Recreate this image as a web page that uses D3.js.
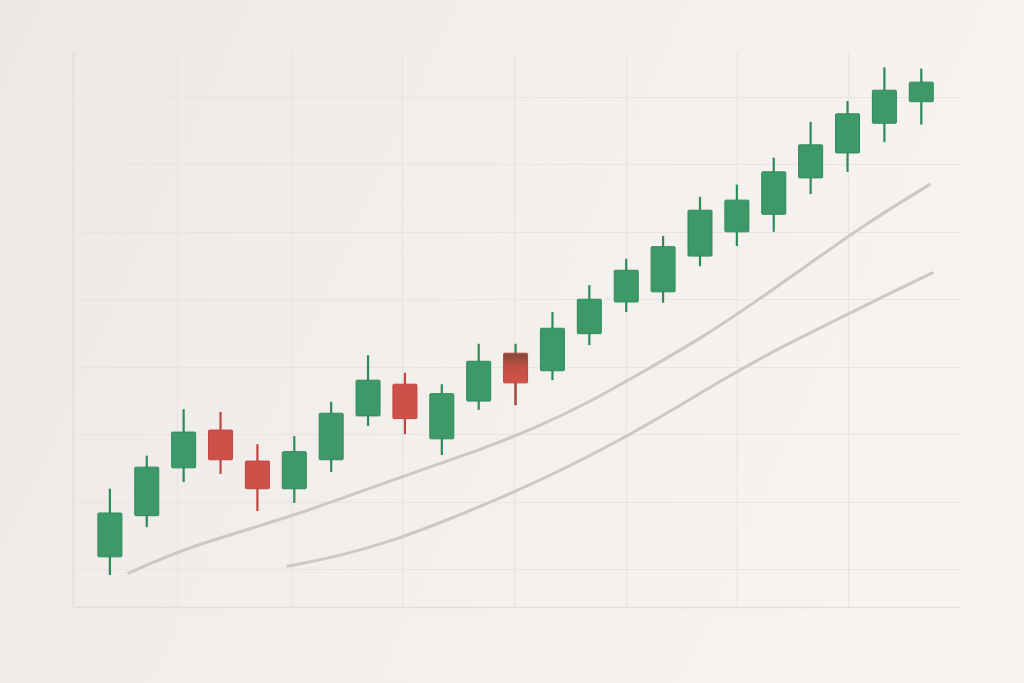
<!DOCTYPE html>
<html>
<head>
<meta charset="utf-8">
<script src="https://cdn.jsdelivr.net/npm/d3@7"></script>
<style>
  html, body { margin: 0; padding: 0; background: #f2efec; }
  svg { display: block; }
</style>
</head>
<body>
<svg id="chart" width="1024" height="683"></svg>
<script>
// ---- data ----
const open  = [11.8, 17.9, 25.0, 30.6, 26.0, 21.9, 26.2, 32.7, 37.4, 29.3, 34.9, 42.0, 39.4, 44.9, 49.6, 51.1, 56.4, 60.0, 62.6, 68.0, 71.7, 76.1, 79.3];
const close = [18.3, 25.1, 30.3, 26.2, 21.9, 27.4, 33.1, 38.0, 32.3, 36.0, 40.8, 37.6, 45.7, 50.0, 54.3, 57.8, 63.2, 64.7, 68.9, 72.9, 77.5, 81.0, 82.2];
const high  = [21.9, 26.8, 33.7, 33.3, 28.5, 29.7, 34.8, 41.7, 39.1, 37.4, 43.4, 43.4, 48.1, 52.1, 56.0, 59.4, 65.2, 67.0, 71.0, 76.3, 79.4, 84.4, 84.2];
const low   = [9.1, 16.2, 22.9, 24.1, 18.6, 19.8, 24.4, 31.2, 30.0, 26.9, 33.6, 34.3, 38.0, 43.2, 48.1, 49.5, 54.9, 57.9, 60.0, 65.6, 68.9, 73.3, 75.9];

// moving-average lines: index position and value
const ma1Index = [0.51, 1.5, 2.5, 4.0, 5.5, 7.0, 8.5, 10.0, 11.5, 13.0, 14.5, 16.0, 17.5, 19.0, 20.5, 22.22];
const ma1Value = [9.4, 11.8, 13.8, 16.3, 18.9, 21.9, 24.8, 27.6, 30.8, 34.7, 39.4, 44.1, 49.6, 55.4, 61.2, 67.0];
const ma2Index = [4.82, 6.3, 7.8, 9.3, 10.8, 12.3, 13.8, 15.3, 16.8, 18.3, 19.8, 21.3, 22.3];
const ma2Value = [10.4, 12.0, 14.4, 17.6, 21.0, 24.8, 29.0, 33.7, 38.7, 43.2, 47.2, 51.3, 53.9];

// grid tick positions
const yTicks = [10, 20, 30, 40, 50, 60, 70, 80];
const xTicks = [1.82, 4.91, 7.92, 10.96, 13.99, 17.0, 20.01];

// ---- layout ----
const W = 1024, H = 683;
const pLeft = 73, pRight = 960, pTop = 52, pBottom = 607;
const svg = d3.select("#chart");

const defs = svg.append("defs");
const bg = defs.append("linearGradient").attr("id", "bg").attr("x1", "0").attr("y1", "0").attr("x2", "1").attr("y2", "0.3");
bg.append("stop").attr("offset", "0%").attr("stop-color", "#ebe8e5");
bg.append("stop").attr("offset", "55%").attr("stop-color", "#f2efec");
bg.append("stop").attr("offset", "100%").attr("stop-color", "#f6f3f1");
const rg = defs.append("linearGradient").attr("id", "redDark").attr("x1", "0").attr("y1", "0").attr("x2", "0").attr("y2", "1");
rg.append("stop").attr("offset", "0%").attr("stop-color", "#7d4a3a");
rg.append("stop").attr("offset", "45%").attr("stop-color", "#c24f44");
rg.append("stop").attr("offset", "100%").attr("stop-color", "#d0524a");

svg.append("rect").attr("width", W).attr("height", H).attr("fill", "url(#bg)");

const x = d3.scaleLinear().domain([-1, 23.05]).range([pLeft, pRight]);
const y = d3.scaleLinear().domain([4.36, 86.67]).range([pBottom, pTop]);

// grid
const grid = svg.append("g");
grid.selectAll("line.h").data(yTicks).join("line")
  .attr("x1", pLeft).attr("x2", pRight)
  .attr("y1", d => Math.round(y(d)) + 0.5).attr("y2", d => Math.round(y(d)) + 0.5)
  .attr("stroke", "#e8e4e1").attr("stroke-width", 1.2);
grid.selectAll("line.v").data(xTicks).join("line")
  .attr("x1", d => Math.round(x(d)) + 0.5).attr("x2", d => Math.round(x(d)) + 0.5)
  .attr("y1", pTop).attr("y2", pBottom)
  .attr("stroke", "#e8e4e1").attr("stroke-width", 1.2);
// frame (left + bottom)
grid.append("line").attr("x1", pLeft + 0.5).attr("x2", pLeft + 0.5).attr("y1", pTop).attr("y2", pBottom)
  .attr("stroke", "#e2dedb").attr("stroke-width", 1.5);
grid.append("line").attr("x1", pLeft).attr("x2", pRight).attr("y1", pBottom + 0.5).attr("y2", pBottom + 0.5)
  .attr("stroke", "#e2dedb").attr("stroke-width", 1.5);

// moving averages
const line = d3.line().x(d => x(d[0])).y(d => y(d[1])).curve(d3.curveBasis);
[[ma1Index, ma1Value], [ma2Index, ma2Value]].forEach(([idx, val]) => {
  svg.append("path")
    .attr("d", line(idx.map((v, i) => [v, val[i]])))
    .attr("fill", "none").attr("stroke", "#cbc8c5").attr("stroke-width", 3)
    .attr("stroke-linecap", "round");
});

// candles
const green = "#3d9a68", greenDark = "#2f8a5a";
const red = "#cf5049", redDark = "#bf463f";
const bodyW = 24;
const candles = open.map((o, i) => ({ i, o, c: close[i], h: high[i], l: low[i] }));
const cg = svg.append("g").selectAll("g").data(candles).join("g");
cg.append("line")
  .attr("x1", d => x(d.i)).attr("x2", d => x(d.i))
  .attr("y1", d => y(d.h)).attr("y2", d => y(d.l))
  .attr("stroke", d => (d.c >= d.o || d.i === 11) ? greenDark : redDark)
  .attr("stroke-width", 2.2);
cg.filter(d => d.i === 11).append("line")
  .attr("x1", d => x(d.i)).attr("x2", d => x(d.i))
  .attr("y1", d => y(Math.min(d.o, d.c))).attr("y2", d => y(d.l))
  .attr("stroke", redDark).attr("stroke-width", 2.2);
cg.append("rect")
  .attr("x", d => x(d.i) - bodyW / 2)
  .attr("width", bodyW)
  .attr("y", d => y(Math.max(d.o, d.c)))
  .attr("height", d => Math.abs(y(d.o) - y(d.c)))
  .attr("rx", 1)
  .attr("fill", d => d.c >= d.o ? green : (d.i === 11 ? "url(#redDark)" : red))
  .attr("stroke", d => d.c >= d.o ? greenDark : redDark)
  .attr("stroke-width", 1);
</script>
</body>
</html>
